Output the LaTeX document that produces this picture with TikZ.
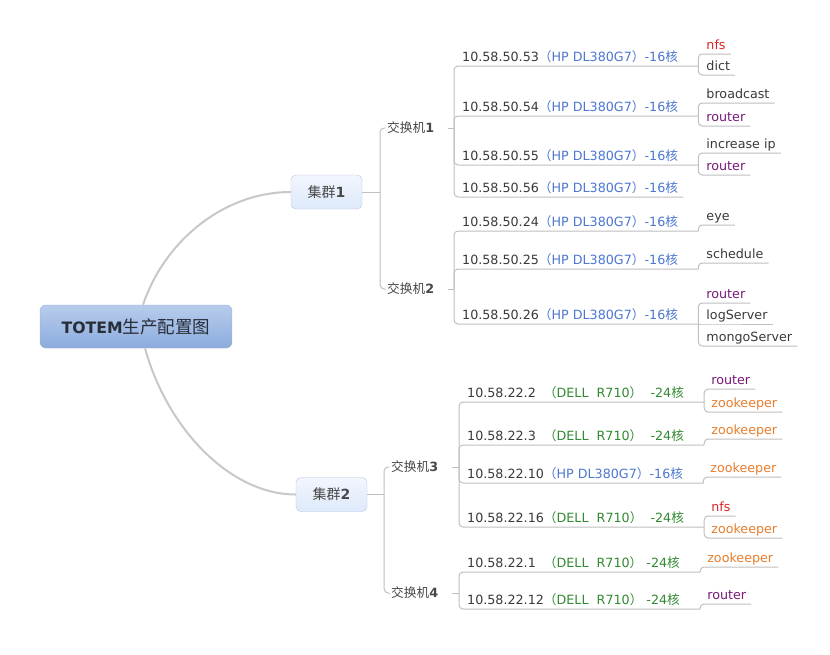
\documentclass[tikz,border=0pt]{standalone}
\usepackage{fontspec}
\setmainfont{DejaVu Sans}
\newfontfamily\cjk{Noto Sans CJK SC}
\usetikzlibrary{calc}

\definecolor{linegray}{RGB}{192,192,192}
\definecolor{trunkgray}{RGB}{200,200,200}
\definecolor{ipgray}{RGB}{58,58,58}
\definecolor{swgray}{RGB}{72,72,72}
\definecolor{hpblue}{RGB}{77,119,208}
\definecolor{dellgreen}{RGB}{50,138,50}
\definecolor{nfsred}{RGB}{218,36,36}
\definecolor{routerpurple}{RGB}{122,24,122}
\definecolor{zkorange}{RGB}{232,126,44}
\definecolor{rootborder}{RGB}{150,172,208}
\definecolor{roottop}{RGB}{184,204,236}
\definecolor{rootbottom}{RGB}{140,172,222}
\definecolor{roottext}{RGB}{40,46,56}
\definecolor{boxborder}{RGB}{182,197,222}
\definecolor{boxtop}{RGB}{242,246,254}
\definecolor{boxbottom}{RGB}{222,233,250}

\newcommand{\zh}[1]{{\cjk #1}}
\newcommand{\hpspec}{\textcolor{hpblue}{\zh{（}HP DL380G7\zh{）}-16\zh{核}}}
\newcommand{\dellspec}[1]{\textcolor{dellgreen}{\zh{（}DELL\ \ R710\zh{）}#1-24\zh{核}}}

\begin{document}
\begin{tikzpicture}[x=1pt, y=-1pt,
	link/.style={draw=linegray, line width=1pt, rounded corners=4pt},
	trunk/.style={draw=trunkgray, line width=2pt},
	srv/.style={anchor=south west, inner xsep=0pt, inner ysep=4pt, text depth=0pt,
		text=ipgray, font=\fontsize{12.7}{14}\selectfont},
	leaf/.style={srv},
	swbox/.style={anchor=west, inner xsep=3pt, inner ysep=2pt, text=swgray,
		font=\fontsize{12.7}{14}\selectfont},
	cluster/.style={draw=boxborder, top color=boxtop, bottom color=boxbottom,
		rounded corners=5pt, minimum width=71pt, minimum height=34pt, inner sep=0pt,
		text=swgray, font=\fontsize{14}{16}\selectfont},
	rootbox/.style={draw=rootborder, top color=roottop, bottom color=rootbottom,
		rounded corners=6pt, minimum width=192pt, minimum height=43pt, inner sep=0pt,
		text=roottext}
]
	\fill[white] (0,0) rectangle (830,654);
	\useasboundingbox (0,0) rectangle (830,654);

	% root and clusters
	\node[rootbox] (root) at (136,326.5)
		{{\fontsize{15.7}{18}\selectfont\bfseries TOTEM}{\fontsize{17.5}{18}\selectfont\cjk 生产配置图}};
	\node[cluster] (c1) at (326.5,192) {\zh{集群}\textbf{1}};
	\node[cluster] (c2) at (331.5,494.5) {\zh{集群}\textbf{2}};

	\draw[trunk] ([xshift=7pt]root.north) .. controls +(22,-65) and +(-66,0) .. (c1.west);
	\draw[trunk] ([xshift=9pt]root.south) .. controls +(22,80) and +(-66,0) .. (c2.west);

	% switches
	\node[swbox] (sw1) at (384,128) {\zh{交换机}\textbf{1}};
	\node[swbox] (sw2) at (384,289) {\zh{交换机}\textbf{2}};
	\node[swbox] (sw3) at (388,467) {\zh{交换机}\textbf{3}};
	\node[swbox] (sw4) at (388,593) {\zh{交换机}\textbf{4}};

	\coordinate (j1) at ($(c1.east)+(18,0)$);
	\coordinate (j2) at ($(c2.east)+(17,0)$);
	\draw[link] (c1.east) -- (j1);
	\draw[link] (j1) |- (sw1.west);
	\draw[link] (j1) |- (sw2.west);
	\draw[link] (c2.east) -- (j2);
	\draw[link] (j2) |- (sw3.west);
	\draw[link] (j2) |- (sw4.west);

	\coordinate (k1) at (454,128);
	\coordinate (k2) at (454,289);
	\coordinate (k3) at (459,467);
	\coordinate (k4) at (459,593);
	\draw[link] ([xshift=11pt]sw1.east) -- (k1);
	\draw[link] ([xshift=11pt]sw2.east) -- (k2);
	\draw[link] ([xshift=11pt]sw3.east) -- (k3);
	\draw[link] ([xshift=11pt]sw4.east) -- (k4);

	% switch 1
	\node[srv] (s53) at (462,66) {10.58.50.53\hpspec};
	\node[srv] (s54) at (462,116) {10.58.50.54\hpspec};
	\node[srv] (s55) at (462,165) {10.58.50.55\hpspec};
	\node[srv] (s56) at (462,197) {10.58.50.56\hpspec};
	\coordinate (b53) at ([xshift=20pt]s53.south east);
	\coordinate (b54) at ([xshift=20pt]s54.south east);
	\coordinate (b55) at ([xshift=20pt]s55.south east);
	\draw[link] (k1) |- (s53.south west) -- (b53);
	\draw[link] (k1) |- (s54.south west) -- (b54);
	\draw[link] (k1) |- (s55.south west) -- (b55);
	\draw[link] (k1) |- (s56.south west) -- ([xshift=5pt]s56.south east);

	\node[leaf, text=nfsred] (nfs53) at ($(b53)+(8,-12)$) {nfs};
	\node[leaf] (dict53) at ($(b53)+(8,9)$) {dict};
	\node[leaf] (bc54) at ($(b54)+(8,-13)$) {broadcast};
	\node[leaf, text=routerpurple] (rt54) at ($(b54)+(8,10)$) {router};
	\node[leaf] (ip55) at ($(b55)+(8,-12)$) {increase ip};
	\node[leaf, text=routerpurple] (rt55) at ($(b55)+(8,10)$) {router};
	\draw[link] (b53) |- (nfs53.south west) -- ([xshift=5pt]nfs53.south east);
	\draw[link] (b53) |- (dict53.south west) -- ([xshift=5pt]dict53.south east);
	\draw[link] (b54) |- (bc54.south west) -- ([xshift=5pt]bc54.south east);
	\draw[link] (b54) |- (rt54.south west) -- ([xshift=5pt]rt54.south east);
	\draw[link] (b55) |- (ip55.south west) -- ([xshift=5pt]ip55.south east);
	\draw[link] (b55) |- (rt55.south west) -- ([xshift=5pt]rt55.south east);

	% switch 2
	\node[srv] (s24) at (462,231) {10.58.50.24\hpspec};
	\node[srv] (s25) at (462,269) {10.58.50.25\hpspec};
	\node[srv] (s26) at (462,324) {10.58.50.26\hpspec};
	\coordinate (b24) at ([xshift=20pt]s24.south east);
	\coordinate (b25) at ([xshift=20pt]s25.south east);
	\coordinate (b26) at ([xshift=20pt]s26.south east);
	\draw[link] (k2) |- (s24.south west) -- (b24);
	\draw[link] (k2) |- (s25.south west) -- (b25);
	\draw[link] (k2) |- (s26.south west) -- (b26);

	\node[leaf] (eye24) at ($(b24)+(8,-6)$) {eye};
	\node[leaf] (sch25) at ($(b25)+(8,-6)$) {schedule};
	\node[leaf, text=routerpurple] (rt26) at ($(b26)+(8,-21)$) {router};
	\node[leaf] (log26) at ($(b26)+(8,0)$) {logServer};
	\node[leaf] (mongo26) at ($(b26)+(8,22)$) {mongoServer};
	\draw[link] (b24) |- (eye24.south west) -- ([xshift=5pt]eye24.south east);
	\draw[link] (b25) |- (sch25.south west) -- ([xshift=5pt]sch25.south east);
	\draw[link] (b26) |- (rt26.south west) -- ([xshift=5pt]rt26.south east);
	\draw[link] (b26) -- (log26.south west) -- ([xshift=5pt]log26.south east);
	\draw[link] (b26) |- (mongo26.south west) -- ([xshift=5pt]mongo26.south east);

	% switch 3
	\node[srv] (t2) at (467,402) {10.58.22.2\ \ \dellspec{\ \ }};
	\node[srv] (t3) at (467,445) {10.58.22.3\ \ \dellspec{\ \ }};
	\node[srv] (t10) at (467,483) {10.58.22.10\hpspec};
	\node[srv] (t16) at (467,527) {10.58.22.16\dellspec{\ \ }};
	\coordinate (b2) at ([xshift=20pt]t2.south east);
	\coordinate (b3) at ([xshift=20pt]t3.south east);
	\coordinate (b10) at ([xshift=20pt]t10.south east);
	\coordinate (b16) at ([xshift=20pt]t16.south east);
	\draw[link] (k3) |- (t2.south west) -- (b2);
	\draw[link] (k3) |- (t3.south west) -- (b3);
	\draw[link] (k3) |- (t10.south west) -- (b10);
	\draw[link] (k3) |- (t16.south west) -- (b16);

	\node[leaf, text=routerpurple] (rt2) at ($(b2)+(7,-13)$) {router};
	\node[leaf, text=zkorange] (zk2) at ($(b2)+(7,10)$) {zookeeper};
	\node[leaf, text=zkorange] (zk3) at ($(b3)+(7,-6)$) {zookeeper};
	\node[leaf, text=zkorange] (zk10) at ($(b10)+(7,-6)$) {zookeeper};
	\node[leaf, text=nfsred] (nfs16) at ($(b16)+(7,-11)$) {nfs};
	\node[leaf, text=zkorange] (zk16) at ($(b16)+(7,11)$) {zookeeper};
	\draw[link] (b2) |- (rt2.south west) -- ([xshift=5pt]rt2.south east);
	\draw[link] (b2) |- (zk2.south west) -- ([xshift=5pt]zk2.south east);
	\draw[link] (b3) |- (zk3.south west) -- ([xshift=5pt]zk3.south east);
	\draw[link] (b10) |- (zk10.south west) -- ([xshift=5pt]zk10.south east);
	\draw[link] (b16) |- (nfs16.south west) -- ([xshift=5pt]nfs16.south east);
	\draw[link] (b16) |- (zk16.south west) -- ([xshift=5pt]zk16.south east);

	% switch 4
	\node[srv] (t1) at (467,572) {10.58.22.1\ \ \dellspec{\ }};
	\node[srv] (t12) at (467,609) {10.58.22.12\dellspec{\ }};
	\coordinate (b1) at ([xshift=20pt]t1.south east);
	\coordinate (b12) at ([xshift=20pt]t12.south east);
	\draw[link] (k4) |- (t1.south west) -- (b1);
	\draw[link] (k4) |- (t12.south west) -- (b12);

	\node[leaf, text=zkorange] (zk1) at ($(b1)+(7,-5)$) {zookeeper};
	\node[leaf, text=routerpurple] (rt12) at ($(b12)+(7,-5)$) {router};
	\draw[link] (b1) |- (zk1.south west) -- ([xshift=5pt]zk1.south east);
	\draw[link] (b12) |- (rt12.south west) -- ([xshift=5pt]rt12.south east);

\end{tikzpicture}
\end{document}
